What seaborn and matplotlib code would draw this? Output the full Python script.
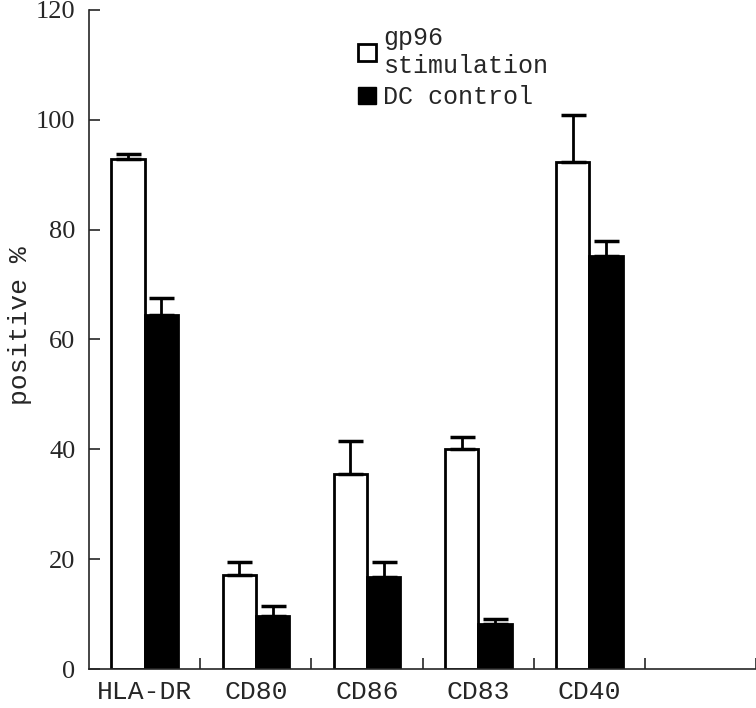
import numpy as np
import pandas as pd
import matplotlib
matplotlib.use("Agg")
import matplotlib.pyplot as plt
import seaborn as sns
from matplotlib.patches import Patch

markers = ["HLA-DR", "CD80", "CD86", "CD83", "CD40"]
gp96 = [92.8, 17.1, 35.6, 40.0, 92.4]
gp96_err = [1.0, 2.4, 6.0, 2.3, 8.5]
dc = [64.5, 9.6, 16.8, 8.2, 75.2]
dc_err = [3.0, 1.8, 2.7, 1.0, 2.7]
groups = ["gp96\nstimulation", "DC control"]

sns.set_style("white")
plt.rcParams["font.family"] = ["Liberation Mono", "DejaVu Sans Mono"]

df = pd.DataFrame({
    "marker": markers * 2,
    "value": gp96 + dc,
    "group": [groups[0]] * 5 + [groups[1]] * 5,
})

fig = plt.figure(figsize=(7.56, 7.08), dpi=100)
ax = fig.add_axes([0.118, 0.055, 0.882, 0.931])
sns.barplot(data=df, x="marker", y="value", hue="group", order=markers,
            hue_order=groups, palette=["white", "black"], edgecolor="black",
            linewidth=2, width=0.6, errorbar=None, legend=False, ax=ax)

# upper-only error bars at the drawn bar positions
bars = [p for p in ax.patches if p.get_height() > 0]
errs = gp96_err + dc_err
for p, e in zip(bars, errs):
    xc = p.get_x() + p.get_width() / 2
    ax.errorbar(xc, p.get_height(), yerr=[[0], [e]], fmt="none",
                ecolor="black", elinewidth=2, capsize=9, capthick=2.5)

ax.set_xlim(-0.5, 5.5)
ax.set_ylim(0, 120)
ax.set_yticks(np.arange(0, 121, 20))
ax.set_xticks(range(5))
ax.set_xticklabels(markers)
ax.set_xticks(np.arange(0.5, 6, 1), minor=True)
ax.tick_params(axis="x", which="major", length=0, labelsize=19, pad=8)
ax.tick_params(axis="x", which="minor", direction="in", length=8, width=1.2,
               bottom=True)
ax.tick_params(axis="y", direction="in", length=8, width=1.2, labelsize=19,
               left=True, pad=10)
for lb in ax.get_yticklabels():
    lb.set_family(["Liberation Serif", "DejaVu Serif"])
ax.set_xlabel("")
ax.set_ylabel("")
fig.text(0.027, 0.54, "positive %", rotation=90, ha="center", va="center",
         fontsize=19)
sns.despine(ax=ax)
for s in ["left", "bottom"]:
    ax.spines[s].set_linewidth(1.2)

handles = [Patch(facecolor="white", edgecolor="black", linewidth=2),
           Patch(facecolor="black", edgecolor="black")]
ax.legend(handles, groups, loc="upper left", bbox_to_anchor=(0.37, 1.01),
          frameon=False, fontsize=18, handlelength=0.7, handleheight=0.7,
          handletextpad=0.3, labelspacing=0.3)

fig.savefig("out.png", dpi=100)
